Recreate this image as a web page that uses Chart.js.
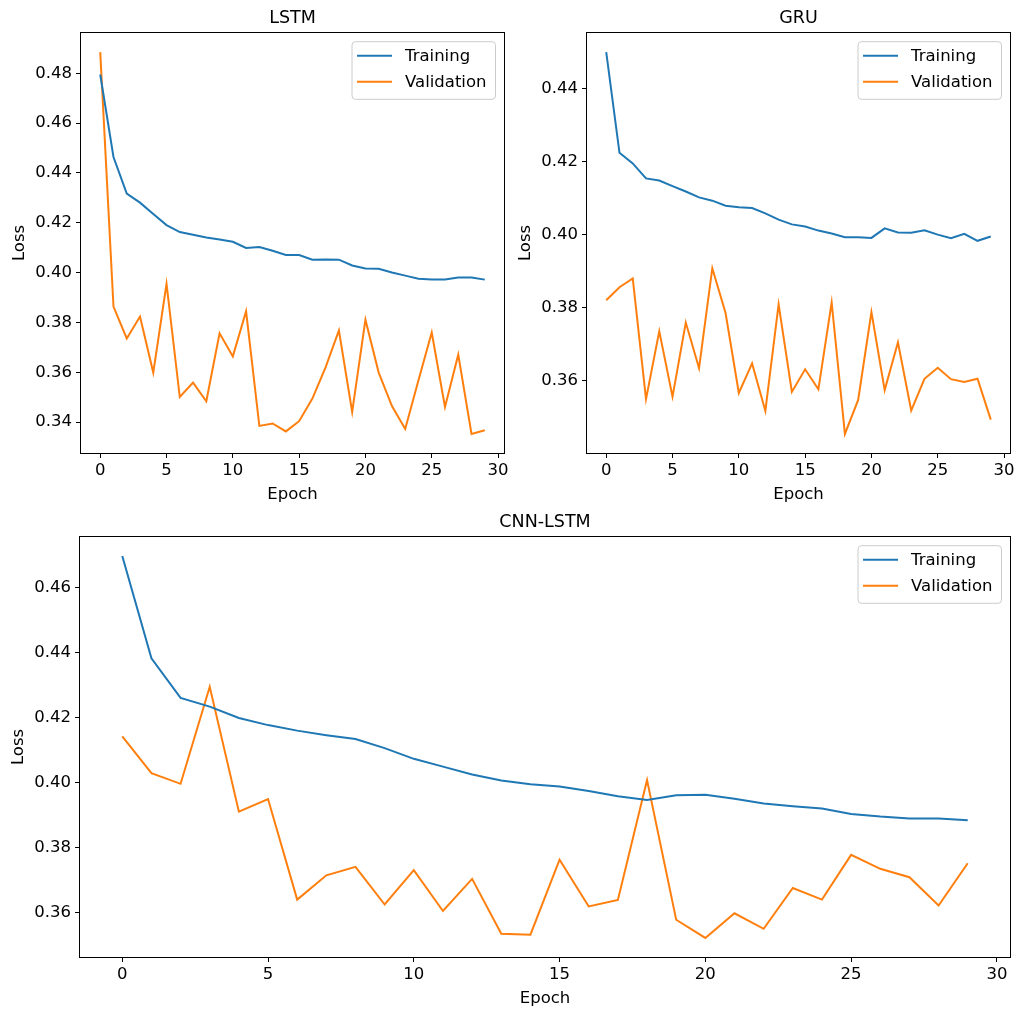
<!DOCTYPE html>
<html>
<head>
<meta charset="utf-8">
<script src="https://cdn.jsdelivr.net/npm/chart.js@4.4.1/dist/chart.umd.min.js"></script>
<style>
  html, body { margin: 0; padding: 0; background: #fff; }
  body { width: 1024px; height: 1018px; position: relative; overflow: hidden; }
  .panel { position: absolute; }
</style>
</head>
<body>
<div class="panel" style="left:0px;top:0px;width:514px;height:508px"><canvas id="lstmChart"></canvas></div>
<div class="panel" style="left:506px;top:0px;width:514px;height:508px"><canvas id="gruChart"></canvas></div>
<div class="panel" style="left:0px;top:504px;width:1020px;height:508px"><canvas id="cnnChart"></canvas></div>
<script>
const epochs = [0, 1, 2, 3, 4, 5, 6, 7, 8, 9, 10, 11, 12, 13, 14, 15, 16, 17, 18, 19, 20, 21, 22, 23, 24, 25, 26, 27, 28, 29];
const xTicks = [0, 5, 10, 15, 20, 25, 30];

const lstmTrain = [0.4795, 0.4464, 0.4317, 0.4281, 0.4235, 0.4191, 0.4163, 0.4152, 0.4141, 0.4133,
  0.4124, 0.4099, 0.4103, 0.4088, 0.4071, 0.4071, 0.4052, 0.4053, 0.4052, 0.4029,
  0.4017, 0.4016, 0.4001, 0.3988, 0.3976, 0.3973, 0.3973, 0.3981, 0.3981, 0.3972];
const lstmVal = [0.4885, 0.3864, 0.3736, 0.3824, 0.3599, 0.3955, 0.3501, 0.3559, 0.3484, 0.3757,
  0.3664, 0.3845, 0.3385, 0.3395, 0.3363, 0.3404, 0.3495, 0.3621, 0.3768, 0.3441,
  0.3811, 0.3599, 0.3465, 0.3373, 0.3568, 0.3760, 0.3461, 0.3671, 0.3353, 0.3368];
const lstmYTicks = [0.34, 0.36, 0.38, 0.40, 0.42, 0.44, 0.46, 0.48];

const gruTrain = [0.4499, 0.4223, 0.4194, 0.4153, 0.4147, 0.4132, 0.4117, 0.4101, 0.4092, 0.4078,
  0.4074, 0.4072, 0.4057, 0.4040, 0.4027, 0.4021, 0.4010, 0.4002, 0.3992, 0.3992,
  0.3990, 0.4016, 0.4005, 0.4004, 0.4011, 0.3999, 0.3989, 0.4001, 0.3982, 0.3994];
const gruVal = [0.3819, 0.3855, 0.3879, 0.3548, 0.3734, 0.3555, 0.3758, 0.3633, 0.3907, 0.3784,
  0.3565, 0.3646, 0.3516, 0.3808, 0.3568, 0.3630, 0.3575, 0.3813, 0.3453, 0.3546,
  0.3787, 0.3573, 0.3704, 0.3517, 0.3604, 0.3634, 0.3603, 0.3595, 0.3604, 0.3492];
const gruYTicks = [0.36, 0.38, 0.40, 0.42, 0.44];

const cnnTrain = [0.4698, 0.4383, 0.4261, 0.4234, 0.4199, 0.4177, 0.4160, 0.4146, 0.4134, 0.4106,
  0.4073, 0.4049, 0.4025, 0.4006, 0.3995, 0.3988, 0.3974, 0.3958, 0.3946, 0.3961,
  0.3962, 0.3950, 0.3935, 0.3927, 0.3920, 0.3903, 0.3895, 0.3889, 0.3889, 0.3884];
const cnnVal = [0.4142, 0.4029, 0.3996, 0.4295, 0.3910, 0.3949, 0.3639, 0.3714, 0.3740, 0.3624,
  0.3730, 0.3604, 0.3703, 0.3534, 0.3531, 0.3762, 0.3618, 0.3638, 0.4008, 0.3577,
  0.3521, 0.3597, 0.3549, 0.3675, 0.3639, 0.3777, 0.3734, 0.3708, 0.3621, 0.3751];
const cnnYTicks = [0.36, 0.38, 0.40, 0.42, 0.44, 0.46];

const BLUE = '#1f77b4';
const ORANGE = '#ff7f0e';
const FONT = 'DejaVu Sans';

Chart.defaults.font.family = FONT;
Chart.defaults.color = '#000';

// black box round the plot area, like matplotlib spines
const frame = {
  id: 'frame',
  afterDraw(chart) {
    const a = chart.chartArea;
    const ctx = chart.ctx;
    ctx.save();
    ctx.strokeStyle = '#000';
    ctx.lineWidth = 1;
    ctx.strokeRect(a.left - 0.5, a.top - 0.5, a.right - a.left + 1, a.bottom - a.top + 1);
    ctx.restore();
  }
};

// upper right legend box
const legendBox = {
  id: 'legendBox',
  afterDatasetsDraw(chart) {
    const {ctx, chartArea} = chart;
    const sets = chart.data.datasets;
    ctx.save();
    ctx.font = '16.5px "' + FONT + '"';
    const textW = Math.max(...sets.map(d => ctx.measureText(d.label).width));
    const w = 53 + textW + 9;
    const h = 57.6;
    const x = chartArea.right - 8.5 - w;
    const y = chartArea.top + 8.7;
    ctx.beginPath();
    ctx.roundRect(x, y, w, h, 3.5);
    ctx.fillStyle = 'rgba(255,255,255,0.8)';
    ctx.fill();
    ctx.strokeStyle = '#cccccc';
    ctx.lineWidth = 1;
    ctx.stroke();
    sets.forEach((d, i) => {
      const ry = y + 14 + i * 26;
      ctx.beginPath();
      ctx.moveTo(x + 5, ry);
      ctx.lineTo(x + 40, ry);
      ctx.strokeStyle = d.borderColor;
      ctx.lineWidth = 2;
      ctx.stroke();
      ctx.fillStyle = '#000';
      ctx.textBaseline = 'middle';
      ctx.fillText(d.label, x + 53, ry + 1);
    });
    ctx.restore();
  }
};

function makeChart(id, title, train, val, yTicks, yAxisW, lossPad) {
  const all = train.concat(val);
  const lo = Math.min(...all), hi = Math.max(...all);
  const pad = (hi - lo) * 0.05;
  const tickFont = {size: 16.5};
  return new Chart(document.getElementById(id), {
    type: 'line',
    data: {
      datasets: [
        {label: 'Training', data: epochs.map((e, i) => ({x: e, y: train[i]})), borderColor: BLUE, borderWidth: 2},
        {label: 'Validation', data: epochs.map((e, i) => ({x: e, y: val[i]})), borderColor: ORANGE, borderWidth: 2}
      ]
    },
    options: {
      responsive: true,
      maintainAspectRatio: false,
      animation: false,
      events: [],
      layout: {padding: {left: 0, right: 10, top: 0, bottom: 0}},
      elements: {point: {radius: 0}, line: {tension: 0}},
      plugins: {
        legend: {display: false},
        tooltip: {enabled: false},
        // fullSize false: title spans the plot area only, so it is centred over it
        title: {display: true, fullSize: false, text: title, color: '#000', font: {size: 17.5, weight: 'normal'}, padding: {top: 7.8, bottom: 4.2}}
      },
      scales: {
        x: {
          type: 'linear',
          min: -1.45,
          max: 30.45,
          afterBuildTicks: s => { s.ticks = xTicks.map(v => ({value: v})); },
          afterFit: s => { s.height = 55; },
          ticks: {font: tickFont, color: '#000', padding: 3, maxRotation: 0, callback: v => String(v)},
          grid: {display: true, drawOnChartArea: false, drawTicks: true, tickLength: 5, tickColor: '#000', tickWidth: 1},
          border: {display: false},
          title: {display: true, text: 'Epoch', color: '#000', font: {size: 16.5}, padding: {top: 0, bottom: 3}}
        },
        y: {
          type: 'linear',
          min: lo - pad,
          max: hi + pad,
          afterBuildTicks: s => { s.ticks = yTicks.map(v => ({value: v})); },
          afterFit: s => { s.width = yAxisW; },
          ticks: {font: tickFont, color: '#000', padding: 4, callback: v => v.toFixed(2)},
          grid: {display: true, drawOnChartArea: false, drawTicks: true, tickLength: 5, tickColor: '#000', tickWidth: 1},
          border: {display: false},
          title: {display: true, text: 'Loss', color: '#000', font: {size: 16.5}, padding: {top: lossPad, bottom: 0}}
        }
      }
    },
    plugins: [frame, legendBox]
  });
}

makeChart('lstmChart', 'LSTM', lstmTrain, lstmVal, lstmYTicks, 81, 10);
makeChart('gruChart', 'GRU', gruTrain, gruVal, gruYTicks, 81, 10);
makeChart('cnnChart', 'CNN-LSTM', cnnTrain, cnnVal, cnnYTicks, 80, 9.2);
</script>
</body>
</html>
